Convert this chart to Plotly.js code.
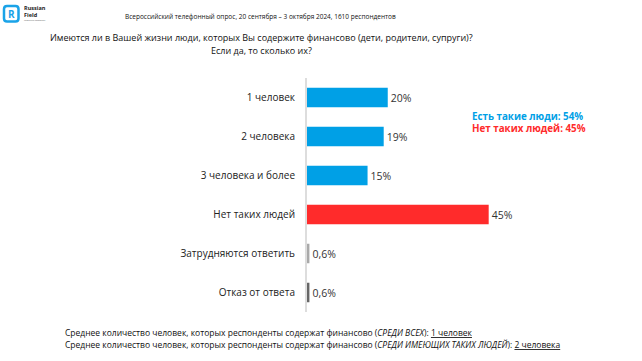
<!DOCTYPE html>
<html><head><meta charset="utf-8">
<script src="https://cdn.plot.ly/plotly-3.0.1.min.js"></script>
<style>html,body{margin:0;padding:0;background:#fff}#chart{width:642px;height:361px}</style>
</head><body><div id="chart"></div>
<script>
// ---- data ----
const categories = ["1 человек","2 человека","3 человека и более","Нет таких людей","Затрудняются ответить","Отказ от ответа"];
const values = [20, 19, 15, 45, 0.6, 0.6];
const barColors = ["#00a0e6","#00a0e6","#00a0e6","#ff2b2b","#a9a9a9","#666666"];
const summaryLabels = ["Есть такие люди", "Нет таких людей"];
const summaryValues = [54, 45];
const subtitleText = "Всероссийский телефонный опрос, 20 сентября – 3 октября 2024, 1610 респондентов";
const titleLines = ["Имеются ли в Вашей жизни люди, которых Вы содержите финансово (дети, родители, супруги)?", "Если да, то сколько их?"];
const footnotes = [
  ["Среднее количество человек, которых респонденты содержат финансово (", "СРЕДИ ВСЕХ", "): ", "1 человек"],
  ["Среднее количество человек, которых респонденты содержат финансово (", "СРЕДИ ИМЕЮЩИХ ТАКИХ ЛЮДЕЙ", "): ", "2 человека"]
];

// ---- layout geometry (pixels) ----
const W = 642, H = 361;
const L = 307, R = 12, T = 78, B = 49;
const PW = W - L - R, PH = H - T - B;
const px = x => (x - L) / PW;
const py = y => (H - B - y) / PH;
const FONT = "Open Sans, DejaVu Sans, sans-serif";

const fmt = v => String(v).replace('.', ',') + '%';

const trace = {
  type: 'bar', orientation: 'h',
  y: categories, x: values,
  marker: {color: barColors, line: {width: 0}},
  text: values.map(fmt), textposition: 'outside', cliponaxis: false,
  textfont: {family: FONT, size: 10.5, color: '#333'},
  hoverinfo: 'skip'
};

const ann = [];
const addText = (text, x, y, anchor, font) => ann.push({text, x: px(x), y: py(y), xref: 'paper', yref: 'paper',
  xanchor: anchor, yanchor: 'middle', showarrow: false, font});
addText(subtitleText, 260, 16, 'center', {family: FONT, size: 6.5, color: '#111'});
addText(titleLines[0], 261, 37.5, 'center', {family: FONT, size: 9, color: '#111'});
addText(titleLines[1], 261, 51, 'center', {family: FONT, size: 9, color: '#111'});
addText('<b>' + summaryLabels[0] + ': ' + summaryValues[0] + '%</b>', 470, 116, 'left', {family: FONT, size: 9.8, color: '#00a0e6'});
addText('<b>' + summaryLabels[1] + ': ' + summaryValues[1] + '%</b>', 470, 128.5, 'left', {family: FONT, size: 9.8, color: '#ff2b2b'});
footnotes.forEach((f, i) => {
  addText(f[0] + '<i>' + f[1] + '</i>' + f[2] + '<span style="text-decoration:underline">' + f[3] + '</span>',
    63, 332 + i * 12, 'left', {family: FONT, size: 8.5, color: '#111'});
});
// logo text
addText('<b>Russian</b>', 22, 8.5, 'left', {family: FONT, size: 5.5, color: '#222'});
addText('<b>Field</b>', 22, 14.5, 'left', {family: FONT, size: 5.5, color: '#222'});
addText('research company', 22, 19.5, 'left', {family: FONT, size: 2.5, color: '#666'});
addText('<b>R</b>', 11, 14, 'center', {family: FONT, size: 10, color: '#1aa3e8'});

const shapes = [
  {type: 'path', xref: 'paper', yref: 'paper',
   path: (() => { const x0=px(4), x1=px(18.5), y0=py(6), y1=py(21.5), rx=3/PW, ry=3/PH;
     return `M${x0+rx},${y0} L${x1-rx},${y0} Q${x1},${y0} ${x1},${y0-ry} L${x1},${y1+ry} Q${x1},${y1} ${x1-rx},${y1} L${x0+rx},${y1} Q${x0},${y1} ${x0},${y1+ry} L${x0},${y0-ry} Q${x0},${y0} ${x0+rx},${y0} Z`; })(),
   line: {color: '#1aa3e8', width: 2.5}, fillcolor: 'rgba(0,0,0,0)'}
];

const layout = {
  width: W, height: H,
  margin: {l: L, r: R, t: T, b: B, pad: 0},
  paper_bgcolor: '#fff', plot_bgcolor: '#fff',
  separators: ', ',
  bargap: 0.5,
  showlegend: false,
  xaxis: {range: [0, 80], visible: false, fixedrange: true},
  yaxis: {autorange: 'reversed', showline: true, linecolor: '#dddddd', linewidth: 2, ticks: '', ticklabelstandoff: 8,
    showgrid: false, zeroline: false, tickfont: {family: FONT, size: 10, color: '#222'}, fixedrange: true},
  annotations: ann,
  shapes: shapes,
  font: {family: FONT}
};

Plotly.newPlot('chart', [trace], layout, {displayModeBar: false, staticPlot: true});
</script>
</body></html>
